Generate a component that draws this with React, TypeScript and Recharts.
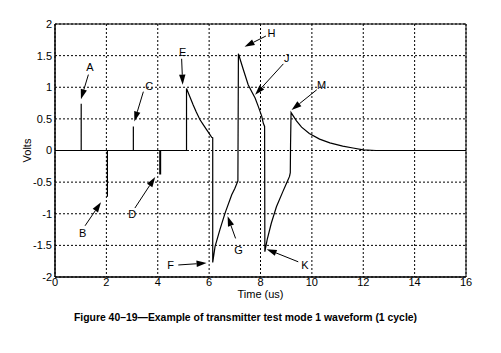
import React from 'react';
import {
  LineChart,
  Line,
  XAxis,
  YAxis,
  CartesianGrid,
  ReferenceArea,
  ReferenceLine,
  ReferenceDot,
} from 'recharts';

// waveform samples (time in us, volts)
const times = [
  0, 1.02, 1.02, 1.02, 2.04, 2.04, 2.04, 3.05, 3.05, 3.05, 4.08, 4.08, 4.11, 4.11, 5.12, 5.12,
  5.25, 5.38, 5.5, 5.64, 5.77, 5.9, 6.0, 6.1, 6.14, 6.14,
  6.23, 6.42, 6.62, 6.88, 7.0, 7.12, 7.14,
  7.33, 7.52, 7.66, 7.79, 7.92, 8.05, 8.11, 8.16, 8.17,
  8.26, 8.42, 8.62, 8.87, 9.0, 9.13, 9.16, 9.17, 9.19,
  9.4, 9.6, 9.9, 10.3, 10.7, 11.2, 11.6, 12.0, 12.5, 16,
];
const volts = [
  0, 0, 0.74, 0, 0, -0.73, 0, 0, 0.38, 0, 0, -0.37, -0.37, 0, 0, 0.98,
  0.85, 0.72, 0.61, 0.49, 0.41, 0.33, 0.27, 0.21, 0.2, -1.77,
  -1.52, -1.25, -0.99, -0.7, -0.6, -0.48, 1.53,
  1.28, 1.04, 0.93, 0.83, 0.69, 0.54, 0.43, 0.38, -1.6,
  -1.41, -1.15, -0.89, -0.65, -0.53, -0.41, -0.35, 0.1, 0.6,
  0.47, 0.37, 0.27, 0.18, 0.12, 0.07, 0.04, 0.01, 0, 0,
];

const xTicks = [0, 2, 4, 6, 8, 10, 12, 14, 16];
const yTicks = [-2, -1.5, -1, -0.5, 0, 0.5, 1, 1.5, 2];

// callouts: letter, label position, arrow tail, arrow tip (data units)
const labelNames = ['A', 'B', 'C', 'D', 'E', 'F', 'G', 'H', 'J', 'K', 'M'];
const labelAt = [
  [1.36, 1.31], [1.08, -1.3], [3.67, 1.01], [3.01, -1.01], [4.97, 1.55], [4.5, -1.82],
  [7.14, -1.57], [8.43, 1.86], [9.02, 1.46], [9.73, -1.81], [10.38, 1.04],
];
const arrowFrom = [
  [1.3, 1.2], [1.17, -1.19], [3.44, 0.93], [3.11, -0.91], [4.93, 1.45], [4.8, -1.81],
  [7.03, -1.39], [8.21, 1.81], [8.89, 1.37], [9.47, -1.76], [10.19, 0.96],
];
const arrowTo = [
  [1.01, 0.81], [1.79, -0.82], [3.09, 0.46], [3.9, -0.42], [4.97, 1.04], [5.9, -1.78],
  [6.72, -1.04], [7.38, 1.64], [7.79, 0.88], [8.24, -1.56], [9.21, 0.64],
];

const data = times.map((t, i) => ({ t, v: volts[i] }));

const FONT = '"Liberation Sans", Arial, Helvetica, sans-serif';

const Arrow = (props: any) => {
  const { x1, y1, x2, y2 } = props;
  const ang = Math.atan2(y2 - y1, x2 - x1);
  const len = 10;
  const half = 3.2;
  const bx = x2 - len * Math.cos(ang);
  const by = y2 - len * Math.sin(ang);
  const px = -Math.sin(ang) * half;
  const py = Math.cos(ang) * half;
  return (
    <g>
      <line x1={x1} y1={y1} x2={bx} y2={by} stroke="#000" strokeWidth={1} />
      <polygon points={`${x2},${y2} ${bx + px},${by + py} ${bx - px},${by - py}`} fill="#000" />
    </g>
  );
};

const Letter = (name: string) => (props: any) => (
  <text
    x={props.cx}
    y={props.cy}
    dy="0.35em"
    textAnchor="middle"
    fontFamily={FONT}
    fontSize={11}
    fill="#000"
  >
    {name}
  </text>
);

export default function App() {
  return (
    <div style={{ position: 'absolute', left: 0, top: 0, width: 501, height: 353, background: '#fff' }}>
      <LineChart width={501} height={353} data={data} margin={{ top: 24, right: 35, bottom: 46, left: 0 }}>
        <CartesianGrid stroke="#000" strokeDasharray="2 2" strokeWidth={1} />
        <XAxis
          dataKey="t"
          type="number"
          domain={[0, 16]}
          ticks={xTicks}
          allowDataOverflow
          height={30}
          tickLine={false}
          tickSize={0}
          tickMargin={1}
          axisLine={{ stroke: '#000' }}
          tick={{ fill: '#000', fontSize: 11, fontFamily: FONT }}
          label={{ value: 'Time (us)', position: 'center', fill: '#000', fontSize: 11, fontFamily: FONT, dy: 2 }}
        />
        <YAxis
          type="number"
          domain={[-2, 2]}
          ticks={yTicks}
          allowDataOverflow
          width={55}
          tickLine={false}
          tickSize={0}
          tickMargin={3}
          axisLine={{ stroke: '#000' }}
          tick={{ fill: '#000', fontSize: 11, fontFamily: FONT }}
          label={{ value: 'Volts', angle: -90, position: 'center', fill: '#000', fontSize: 11, fontFamily: FONT }}
        />
        <ReferenceArea x1={0} x2={16} y1={-2} y2={2} fill="none" stroke="#000" strokeWidth={1} />
        <Line
          type="linear"
          dataKey="v"
          stroke="#000"
          strokeWidth={1.2}
          dot={false}
          isAnimationActive={false}
        />
        {labelNames.map((name, i) => (
          <ReferenceLine
            key={`arrow-${name}`}
            segment={[
              { x: arrowFrom[i][0], y: arrowFrom[i][1] },
              { x: arrowTo[i][0], y: arrowTo[i][1] },
            ]}
            shape={Arrow}
          />
        ))}
        {labelNames.map((name, i) => (
          <ReferenceDot key={`label-${name}`} x={labelAt[i][0]} y={labelAt[i][1]} r={0} shape={Letter(name)} />
        ))}
      </LineChart>
      <div
        style={{
          position: 'absolute',
          left: 0,
          top: 312,
          width: 491,
          textAlign: 'center',
          fontFamily: FONT,
          fontWeight: 'bold',
          fontSize: 10.4,
          color: '#000',
        }}
      >
        Figure 40–19—Example of transmitter test mode 1 waveform (1 cycle)
      </div>
    </div>
  );
}
